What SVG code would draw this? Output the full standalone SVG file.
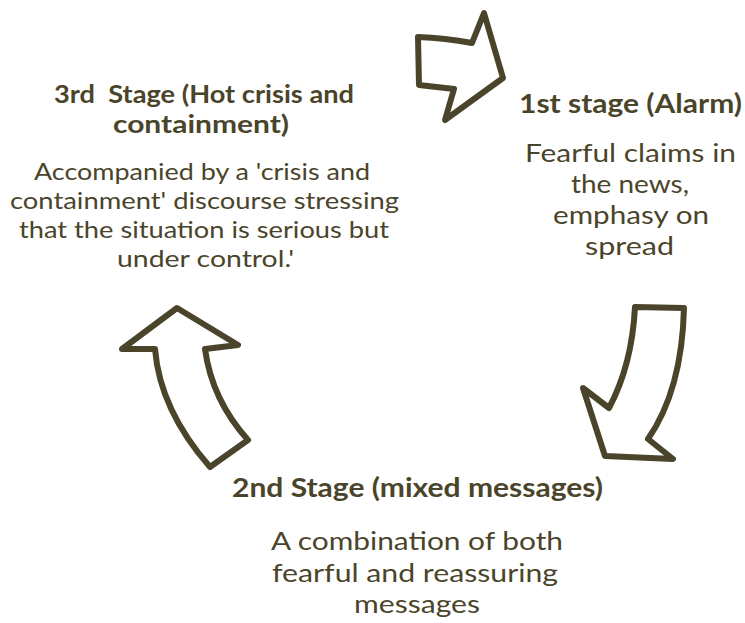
<svg xmlns="http://www.w3.org/2000/svg" width="745" height="623" viewBox="0 0 745 623">
<style>
.arrow{fill:#ffffff;stroke:#4a452a;stroke-width:6;stroke-linejoin:round}
text{font-family:Lato,"Liberation Sans",sans-serif;fill:#4a452a;text-anchor:middle}
.h{font-weight:bold}
#stage3 .h{font-size:25px}
#stage3 .b{font-size:24px}
#stage1 .h{font-size:26px}
#stage1 .b{font-size:25.5px}
#stage2 .h{font-size:26px}
#stage2 .b{font-size:25.5px}
</style>
<rect width="745" height="623" fill="#ffffff"/>
<g id="connectors">
<path id="arrow-top" class="arrow" d="M418,37 Q445,38 472,43 L484,13 L503,78 L445,120 L454,89 L419,85 Z"/>
<path id="arrow-right" class="arrow" d="M635,307 L684,308 Q682,390 648,439 L673,459 L605,456 L583,388 L609,408 Q632,365 635,307 Z"/>
<path id="arrow-left" class="arrow" d="M177,308 L238,345 L205,349 Q212,400 248,440 L210,467 Q160,410 155,349 L122,349 Z"/>
</g>
<g id="stage3">
<text class="h" x="204" y="103" xml:space="preserve" textLength="300" lengthAdjust="spacingAndGlyphs">3rd  Stage (Hot crisis and</text>
<text class="h" x="201" y="133" textLength="176" lengthAdjust="spacingAndGlyphs">containment)</text>
<text class="b" x="202" y="180" textLength="336" lengthAdjust="spacingAndGlyphs">Accompanied by a 'crisis and</text>
<text class="b" x="204.5" y="209" textLength="389" lengthAdjust="spacingAndGlyphs">containment' discourse stressing</text>
<text class="b" x="204" y="238" textLength="370" lengthAdjust="spacingAndGlyphs">that the situation is serious but</text>
<text class="b" x="205.5" y="267" textLength="177" lengthAdjust="spacingAndGlyphs">under control.'</text>
</g>
<g id="stage1">
<text class="h" x="630.5" y="113" textLength="223" lengthAdjust="spacingAndGlyphs">1st stage (Alarm)</text>
<text class="b" x="630.5" y="162" textLength="211" lengthAdjust="spacingAndGlyphs">Fearful claims in</text>
<text class="b" x="630" y="193" textLength="118" lengthAdjust="spacingAndGlyphs">the news,</text>
<text class="b" x="631" y="224" textLength="156" lengthAdjust="spacingAndGlyphs">emphasy on</text>
<text class="b" x="629.5" y="255" textLength="89" lengthAdjust="spacingAndGlyphs">spread</text>
</g>
<g id="stage2">
<text class="h" x="417.5" y="497" textLength="371" lengthAdjust="spacingAndGlyphs">2nd Stage (mixed messages)</text>
<text class="b" x="417" y="550" textLength="292" lengthAdjust="spacingAndGlyphs">A combination of both</text>
<text class="b" x="415" y="582" textLength="286" lengthAdjust="spacingAndGlyphs">fearful and reassuring</text>
<text class="b" x="417" y="613" textLength="126" lengthAdjust="spacingAndGlyphs">messages</text>
</g>
</svg>
